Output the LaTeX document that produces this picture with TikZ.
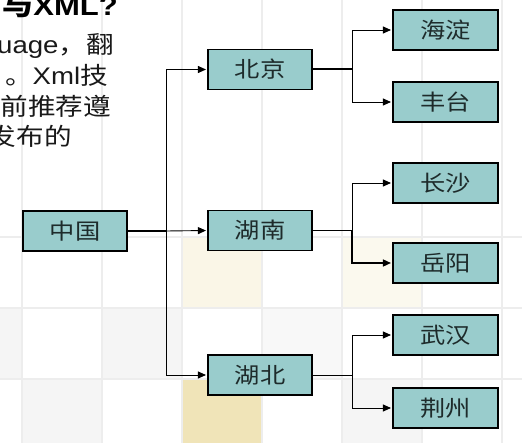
\documentclass[tikz,border=0pt]{standalone}
\usepackage{fontspec}
\setmainfont[FakeStretch=1.15]{Liberation Sans}
\newfontfamily\cjk[FakeStretch=1.15]{Noto Sans CJK SC}
\usetikzlibrary{arrows.meta}
\definecolor{boxfill}{HTML}{99CCCC}
\definecolor{gridc}{HTML}{EDEDED}
\definecolor{cellcream}{HTML}{FAF6E7}
\definecolor{celltan}{HTML}{F0E4B8}
\definecolor{cellgray}{HTML}{F5F5F5}
\definecolor{txt}{HTML}{1E2B2B}
\begin{document}
\begin{tikzpicture}[x=1pt,y=-1pt,
  gridline/.style={draw=gridc,line width=1.5pt},
  citybox/.style={draw=black,line width=1.1pt,fill=boxfill,minimum width=104pt,minimum height=40pt,inner sep=0pt,text=txt,font=\cjk\fontsize{22}{22}\selectfont},
  conn/.style={draw=black,line width=0.9pt},
  thickconn/.style={draw=black,line width=2pt},
  arr/.style={conn,-{Triangle[length=8pt,width=7pt]},shorten >=1.5pt},
  bodytxt/.style={anchor=base east,inner sep=0pt,text=black!90,font=\fontsize{24}{24}\selectfont}
]
\clip (0,0) rectangle (522,443);
\useasboundingbox (0,0) rectangle (522,443);
\fill[white] (0,0) rectangle (522,443);
% background cells
\fill[cellcream] (182,237) rectangle (262,308);
\fill[cellcream!70!white] (342,237) rectangle (422,308);
\fill[cellgray] (0,308) rectangle (22,379);
\fill[cellgray] (102,308) rectangle (182,379);
\fill[cellgray!70!white] (262,308) rectangle (342,379);
\fill[cellgray] (22,379) rectangle (102,443);
\fill[celltan] (182,379) rectangle (262,443);
\fill[cellgray] (342,379) rectangle (422,443);
% grid
\foreach \x in {22,102,182,262,342,422,502} \draw[gridline] (\x,0) -- (\x,443);
\foreach \y in {237,308,379} \draw[gridline] (0,\y) -- (522,\y);
% cut-off slide text
\node[anchor=base east,inner sep=0pt,font=\bfseries\fontsize{27}{27}\selectfont] (title) at (118,16) {{\cjk\bfseries 与}XML?};
\node[bodytxt] (l1) at (114,54) {uage{\cjk，翻}};
\node[bodytxt] (l2) at (108,85) {{\cjk 。}Xml{\cjk 技}};
\node[bodytxt] (l3) at (111,115.5) {\cjk 前推荐遵};
\node[bodytxt] (l4) at (72,145.5) {\cjk 发布的};
% nodes
\node[citybox] (zg) at (75,231) {中国};
\node[citybox] (bj) at (260,69.5) {北京};
\node[citybox] (hn) at (260,230.5) {湖南};
\node[citybox] (hb) at (260,375) {湖北};
\node[citybox,minimum width=105pt] (hd) at (445.5,30) {海淀};
\node[citybox,minimum width=105pt] (ft) at (445.5,102) {丰台};
\node[citybox,minimum width=105pt] (cs) at (445.5,183) {长沙};
\node[citybox,minimum width=105pt] (yy) at (445.5,263) {岳阳};
\node[citybox,minimum width=105pt] (wh) at (445.5,335) {武汉};
\node[citybox,minimum width=105pt] (jz) at (445.5,408) {荆州};
% junctions
\coordinate (j0) at (166.5,231);
\coordinate (j1) at (352,69.5);
\coordinate (j2) at (352,230.5);
\coordinate (j3) at (352,375);
% connectors
\draw[thickconn] (zg.east) -- (j0);
\draw[arr] (j0) |- (bj.west);
\draw[arr] (j0) |- (hb.west);
\draw[arr] (j0) -- (hn.west);
\draw[thickconn] (bj.east) -- (j1);
\draw[arr] (j1) |- (hd.west);
\draw[arr] (j1) |- (ft.west);
\draw[conn] (hn.east) -- (j2);
\draw[arr] (j2) |- (cs.west);
\draw[arr,line width=1.5pt] (j2) |- (yy.west);
\draw[conn] (hb.east) -- (j3);
\draw[arr] (j3) |- (wh.west);
\draw[arr] (j3) |- (jz.west);
\end{tikzpicture}
\end{document}
